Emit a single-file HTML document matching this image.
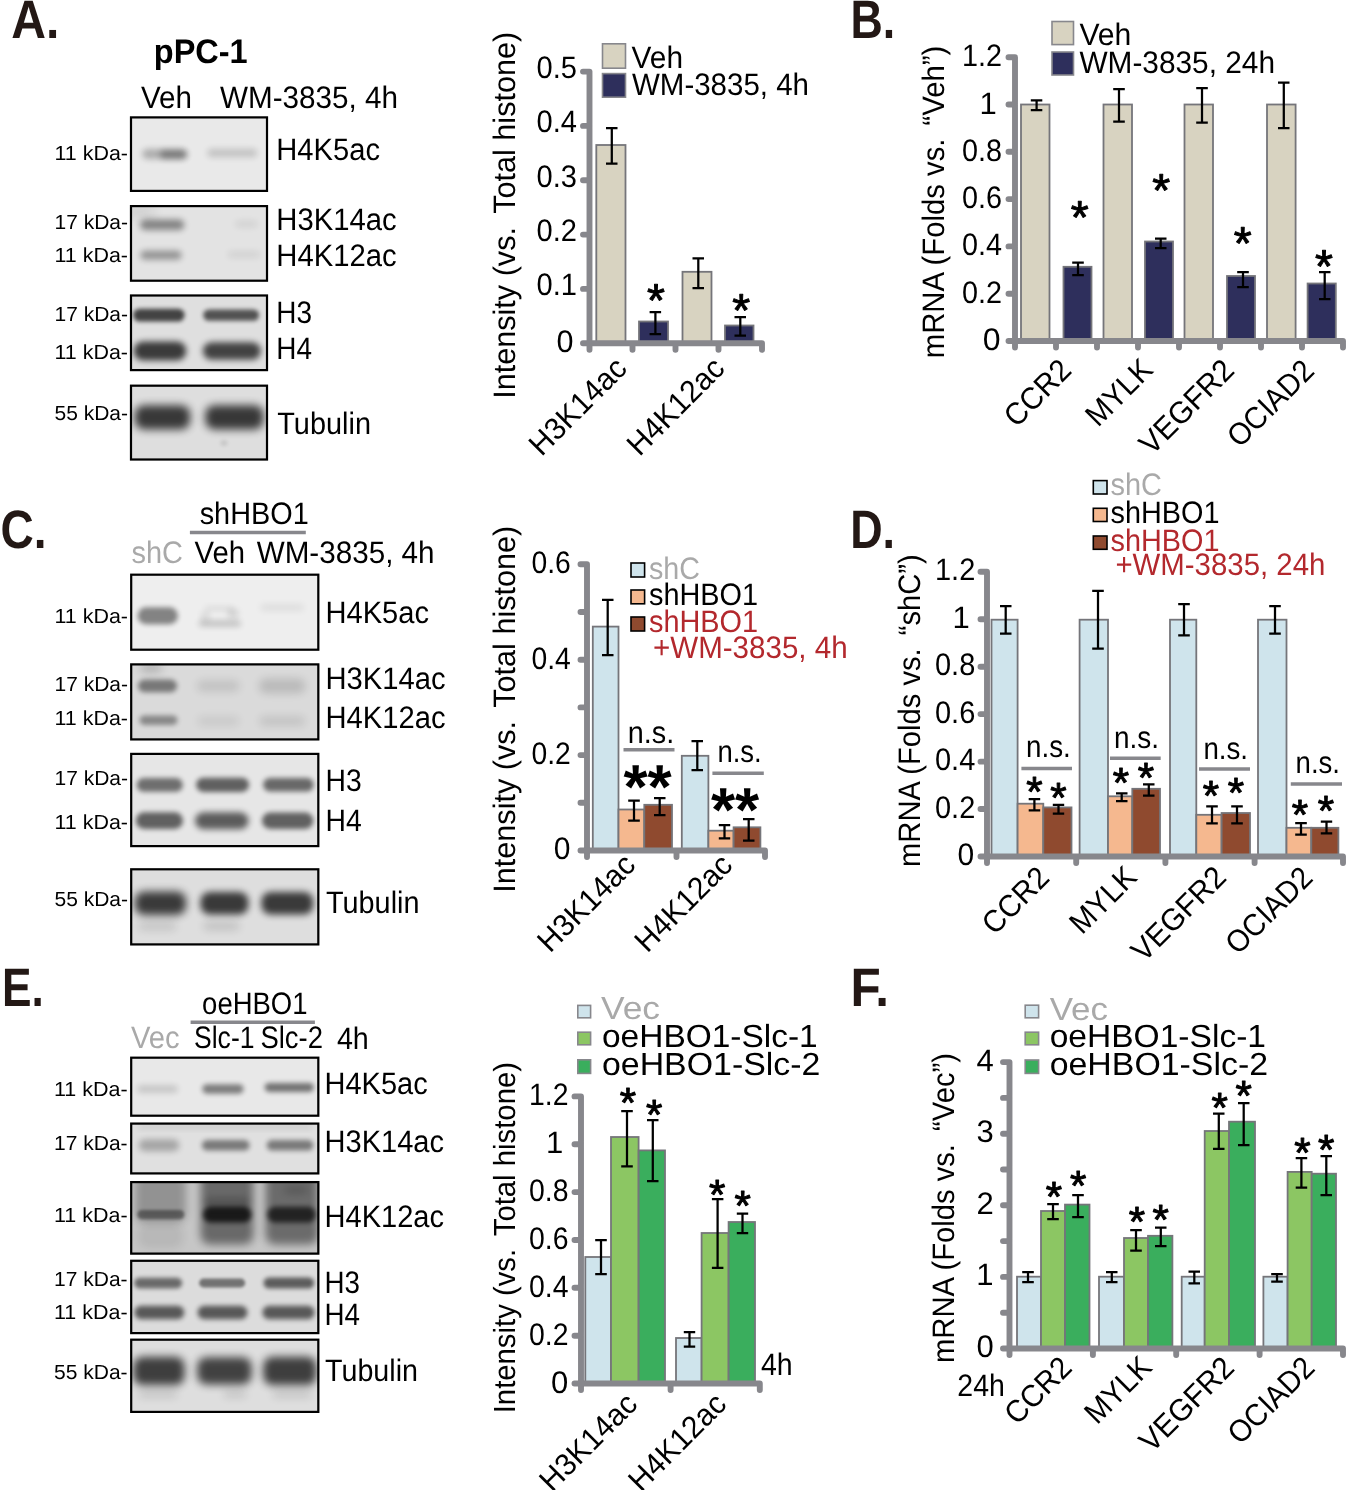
<!DOCTYPE html><html><head><meta charset="utf-8"><title>Figure</title><style>html,body{margin:0;padding:0;background:#fff;}text{opacity:.999}body{width:1346px;height:1490px;overflow:hidden;font-family:"Liberation Sans",sans-serif;}svg{display:block;}</style></head><body><svg width="1346" height="1490" viewBox="0 0 1346 1490" font-family="'Liberation Sans', sans-serif" text-rendering="geometricPrecision"><defs><clipPath id="c1"><rect x="129.9" y="116.3" width="138.2" height="75.7"/></clipPath><clipPath id="c2"><rect x="129.9" y="205.0" width="138.2" height="76.8"/></clipPath><clipPath id="c3"><rect x="129.9" y="294.4" width="138.2" height="76.8"/></clipPath><clipPath id="c4"><rect x="129.9" y="384.6" width="138.2" height="76.0"/></clipPath><clipPath id="c5"><rect x="130.1" y="573.6" width="189.3" height="77.2"/></clipPath><clipPath id="c6"><rect x="130.1" y="663.3" width="189.3" height="77.2"/></clipPath><clipPath id="c7"><rect x="130.1" y="752.8" width="189.3" height="94.4"/></clipPath><clipPath id="c8"><rect x="130.1" y="868.2" width="189.3" height="77.3"/></clipPath><clipPath id="c9"><rect x="130.1" y="1056.6" width="189.3" height="60.2"/></clipPath><clipPath id="c10"><rect x="130.1" y="1122.5" width="189.3" height="52.0"/></clipPath><clipPath id="c11"><rect x="130.1" y="1181.0" width="189.3" height="73.7"/></clipPath><clipPath id="c12"><rect x="130.1" y="1259.7" width="189.3" height="74.5"/></clipPath><clipPath id="c13"><rect x="130.1" y="1338.6" width="189.3" height="74.4"/></clipPath><filter id="b16" x="-60%" y="-300%" width="220%" height="700%"><feGaussianBlur stdDeviation="1.6"/></filter><filter id="b19" x="-60%" y="-300%" width="220%" height="700%"><feGaussianBlur stdDeviation="1.9"/></filter><filter id="b20" x="-60%" y="-300%" width="220%" height="700%"><feGaussianBlur stdDeviation="2.0"/></filter><filter id="b22" x="-60%" y="-300%" width="220%" height="700%"><feGaussianBlur stdDeviation="2.2"/></filter><filter id="b24" x="-60%" y="-300%" width="220%" height="700%"><feGaussianBlur stdDeviation="2.4"/></filter><filter id="b25" x="-60%" y="-300%" width="220%" height="700%"><feGaussianBlur stdDeviation="2.5"/></filter><filter id="b26" x="-60%" y="-300%" width="220%" height="700%"><feGaussianBlur stdDeviation="2.6"/></filter><filter id="b28" x="-60%" y="-300%" width="220%" height="700%"><feGaussianBlur stdDeviation="2.8"/></filter><filter id="b29" x="-60%" y="-300%" width="220%" height="700%"><feGaussianBlur stdDeviation="2.9"/></filter><filter id="b30" x="-60%" y="-300%" width="220%" height="700%"><feGaussianBlur stdDeviation="3.0"/></filter><filter id="b31" x="-60%" y="-300%" width="220%" height="700%"><feGaussianBlur stdDeviation="3.1"/></filter><filter id="b32" x="-60%" y="-300%" width="220%" height="700%"><feGaussianBlur stdDeviation="3.2"/></filter><filter id="b33" x="-60%" y="-300%" width="220%" height="700%"><feGaussianBlur stdDeviation="3.3"/></filter><filter id="b34" x="-60%" y="-300%" width="220%" height="700%"><feGaussianBlur stdDeviation="3.4"/></filter><filter id="b35" x="-60%" y="-300%" width="220%" height="700%"><feGaussianBlur stdDeviation="3.5"/></filter><filter id="b36" x="-60%" y="-300%" width="220%" height="700%"><feGaussianBlur stdDeviation="3.6"/></filter><filter id="b39" x="-60%" y="-300%" width="220%" height="700%"><feGaussianBlur stdDeviation="3.9"/></filter><filter id="b40" x="-60%" y="-300%" width="220%" height="700%"><feGaussianBlur stdDeviation="4.0"/></filter><filter id="b45" x="-60%" y="-300%" width="220%" height="700%"><feGaussianBlur stdDeviation="4.5"/></filter><filter id="b50" x="-60%" y="-300%" width="220%" height="700%"><feGaussianBlur stdDeviation="5.0"/></filter><filter id="b60" x="-60%" y="-300%" width="220%" height="700%"><feGaussianBlur stdDeviation="6.0"/></filter></defs><rect width="1346" height="1490" fill="#fff"/><text x="11.2" y="38.0" font-size="54" font-weight="bold" fill="#231815" textLength="48.1" lengthAdjust="spacingAndGlyphs">A.</text>
<text x="153.8" y="63.3" font-size="34" font-weight="bold" textLength="93.9" lengthAdjust="spacingAndGlyphs">pPC-1</text>
<text x="141.0" y="107.5" font-size="31" textLength="51.0" lengthAdjust="spacingAndGlyphs">Veh</text>
<text x="220.0" y="107.5" font-size="31" textLength="178.0" lengthAdjust="spacingAndGlyphs">WM-3835, 4h</text>
<rect x="129.9" y="116.3" width="138.2" height="75.7" fill="#e9e9e9"/>
<g clip-path="url(#c1)">
<rect x="142.2" y="148.9" width="44.6" height="10.1" rx="5.1" fill="#000" opacity="0.26" filter="url(#b30)"/>
<rect x="160.2" y="150.4" width="26.6" height="8.1" rx="4.1" fill="#000" opacity="0.32" filter="url(#b30)"/>
<rect x="207.2" y="148.7" width="50.2" height="8.6" rx="4.3" fill="#000" opacity="0.16" filter="url(#b32)"/>
</g>
<rect x="131.0" y="117.4" width="136.0" height="73.5" fill="none" stroke="#000" stroke-width="2.2"/>
<rect x="129.9" y="205.0" width="138.2" height="76.8" fill="#e3e3e3"/>
<g clip-path="url(#c2)">
<rect x="125.4" y="207.9" width="29.2" height="8.2" rx="4.1" fill="#000" opacity="0.12" filter="url(#b60)"/>
<rect x="140.1" y="219.4" width="44.2" height="10.6" rx="5.3" fill="#000" opacity="0.42" filter="url(#b32)"/>
<rect x="140.4" y="250.8" width="41.2" height="8.6" rx="4.3" fill="#000" opacity="0.36" filter="url(#b32)"/>
<rect x="235.2" y="220.4" width="22.6" height="7.1" rx="3.6" fill="#000" opacity="0.07" filter="url(#b30)"/>
<rect x="227.7" y="250.9" width="32.6" height="7.1" rx="3.6" fill="#000" opacity="0.07" filter="url(#b30)"/>
</g>
<rect x="131.0" y="206.1" width="136.0" height="74.6" fill="none" stroke="#000" stroke-width="2.2"/>
<rect x="129.9" y="294.4" width="138.2" height="76.8" fill="#dfdfdf"/>
<g clip-path="url(#c3)">
<rect x="133.1" y="308.7" width="51.5" height="12.8" rx="6.4" fill="#000" opacity="0.70" filter="url(#b22)"/>
<rect x="203.2" y="309.4" width="55.9" height="11.4" rx="5.7" fill="#000" opacity="0.63" filter="url(#b20)"/>
<rect x="133.7" y="341.6" width="52.5" height="18.9" rx="9.0" fill="#000" opacity="0.74" filter="url(#b33)"/>
<rect x="202.9" y="342.3" width="58.0" height="17.5" rx="8.7" fill="#000" opacity="0.70" filter="url(#b31)"/>
</g>
<rect x="131.0" y="295.5" width="136.0" height="74.6" fill="none" stroke="#000" stroke-width="2.2"/>
<rect x="129.9" y="384.6" width="138.2" height="76.0" fill="#dedede"/>
<g clip-path="url(#c4)">
<rect x="134.8" y="405.2" width="55.3" height="24.3" rx="9.0" fill="#000" opacity="0.75" filter="url(#b40)"/>
<rect x="205.3" y="405.2" width="58.3" height="24.3" rx="9.0" fill="#000" opacity="0.75" filter="url(#b40)"/>
<rect x="220.8" y="441.3" width="6.4" height="3.4" rx="1.7" fill="#000" opacity="0.19" filter="url(#b20)"/>
</g>
<rect x="131.0" y="385.7" width="136.0" height="73.8" fill="none" stroke="#000" stroke-width="2.2"/>
<text x="54.5" y="159.6" font-size="20.5" textLength="73.5" lengthAdjust="spacingAndGlyphs">11 kDa-</text>
<text x="54.5" y="229.0" font-size="20.5" textLength="73.5" lengthAdjust="spacingAndGlyphs">17 kDa-</text>
<text x="54.5" y="262.4" font-size="20.5" textLength="73.5" lengthAdjust="spacingAndGlyphs">11 kDa-</text>
<text x="54.5" y="320.6" font-size="20.5" textLength="73.5" lengthAdjust="spacingAndGlyphs">17 kDa-</text>
<text x="54.5" y="359.0" font-size="20.5" textLength="73.5" lengthAdjust="spacingAndGlyphs">11 kDa-</text>
<text x="54.5" y="419.6" font-size="20.5" textLength="73.5" lengthAdjust="spacingAndGlyphs">55 kDa-</text>
<text x="276.3" y="160.2" font-size="31" textLength="103.7" lengthAdjust="spacingAndGlyphs">H4K5ac</text>
<text x="276.3" y="229.6" font-size="31" textLength="120.3" lengthAdjust="spacingAndGlyphs">H3K14ac</text>
<text x="276.3" y="265.8" font-size="31" textLength="120.3" lengthAdjust="spacingAndGlyphs">H4K12ac</text>
<text x="276.3" y="322.9" font-size="31" textLength="35.7" lengthAdjust="spacingAndGlyphs">H3</text>
<text x="276.3" y="359.2" font-size="31" textLength="35.7" lengthAdjust="spacingAndGlyphs">H4</text>
<text x="277.3" y="433.6" font-size="31" textLength="93.7" lengthAdjust="spacingAndGlyphs">Tubulin</text>
<rect x="596.3" y="145.0" width="29.2" height="198.3" fill="#d8d3c1" stroke="#75757a" stroke-width="1.8"/>
<rect x="639.0" y="321.5" width="29.0" height="21.8" fill="#2e2f5c" stroke="#75757a" stroke-width="1.8"/>
<rect x="682.5" y="271.8" width="29.0" height="71.5" fill="#d8d3c1" stroke="#75757a" stroke-width="1.8"/>
<rect x="725.0" y="325.5" width="28.5" height="17.8" fill="#2e2f5c" stroke="#75757a" stroke-width="1.8"/>
<path d="M606.0 128.0H617.5M606.0 163.6H617.5M611.8 128.0V163.6" stroke="#000" stroke-width="2.25" fill="none"/>
<path d="M649.6 312.0H661.1M649.6 334.0H661.1M655.4 312.0V334.0" stroke="#000" stroke-width="2.25" fill="none"/>
<path d="M692.5 258.4H704.0M692.5 288.0H704.0M698.3 258.4V288.0" stroke="#000" stroke-width="2.25" fill="none"/>
<path d="M734.5 317.0H746.0M734.5 335.6H746.0M740.3 317.0V335.6" stroke="#000" stroke-width="2.25" fill="none"/>
<text x="656.0" y="315.6" font-size="46" text-anchor="middle" stroke="#000" stroke-width="1.0" stroke-linejoin="round">*</text>
<text x="741.3" y="325.9" font-size="46" text-anchor="middle" stroke="#000" stroke-width="1.0" stroke-linejoin="round">*</text>
<rect x="602.5" y="43.8" width="23.0" height="24.4" fill="#d8d3c1" stroke="#87878c" stroke-width="1.6"/>
<rect x="602.5" y="73.6" width="23.0" height="23.6" fill="#2e2f5c" stroke="#87878c" stroke-width="1.6"/>
<text x="631.6" y="67.6" font-size="31" textLength="51.4" lengthAdjust="spacingAndGlyphs">Veh</text>
<text x="632.0" y="95.4" font-size="31" textLength="177.0" lengthAdjust="spacingAndGlyphs">WM-3835, 4h</text>
<text x="536.6" y="78.1" font-size="31" textLength="40.4" lengthAdjust="spacingAndGlyphs">0.5</text>
<text x="536.6" y="132.4" font-size="31" textLength="40.4" lengthAdjust="spacingAndGlyphs">0.4</text>
<text x="536.6" y="186.8" font-size="31" textLength="40.4" lengthAdjust="spacingAndGlyphs">0.3</text>
<text x="536.6" y="241.1" font-size="31" textLength="40.4" lengthAdjust="spacingAndGlyphs">0.2</text>
<text x="536.6" y="295.4" font-size="31" textLength="40.4" lengthAdjust="spacingAndGlyphs">0.1</text>
<text x="556.5" y="352.3" font-size="31" textLength="17.0" lengthAdjust="spacingAndGlyphs">0</text>
<g transform="translate(515.3 398.8) rotate(-90) scale(0.9872 1)"><text x="-0.00" y="0" font-size="31" xml:space="preserve">Intensity (vs. <tspan dx="5.3">Total histone)</tspan></text></g>
<text x="628.5" y="370.2" font-size="31" text-anchor="end" textLength="123.0" lengthAdjust="spacingAndGlyphs" transform="rotate(-45 628.5 370.2)">H3K14ac</text>
<text x="726.4" y="370.2" font-size="31" text-anchor="end" textLength="123.0" lengthAdjust="spacingAndGlyphs" transform="rotate(-45 726.4 370.2)">H4K12ac</text>
<text x="850.4" y="38.0" font-size="54" font-weight="bold" fill="#231815" textLength="44.7" lengthAdjust="spacingAndGlyphs">B.</text>
<rect x="1021.0" y="104.5" width="28.5" height="236.5" fill="#d8d3c1" stroke="#75757a" stroke-width="1.8"/>
<rect x="1063.5" y="266.8" width="28.0" height="74.2" fill="#2e2f5c" stroke="#75757a" stroke-width="1.8"/>
<rect x="1103.5" y="104.5" width="28.5" height="236.5" fill="#d8d3c1" stroke="#75757a" stroke-width="1.8"/>
<rect x="1145.0" y="241.5" width="28.0" height="99.5" fill="#2e2f5c" stroke="#75757a" stroke-width="1.8"/>
<rect x="1184.5" y="104.5" width="28.5" height="236.5" fill="#d8d3c1" stroke="#75757a" stroke-width="1.8"/>
<rect x="1227.0" y="276.0" width="28.0" height="65.0" fill="#2e2f5c" stroke="#75757a" stroke-width="1.8"/>
<rect x="1267.0" y="104.5" width="28.6" height="236.5" fill="#d8d3c1" stroke="#75757a" stroke-width="1.8"/>
<rect x="1307.6" y="283.5" width="28.2" height="57.5" fill="#2e2f5c" stroke="#75757a" stroke-width="1.8"/>
<path d="M1030.8 100.3H1042.3M1030.8 110.0H1042.3M1036.6 100.3V110.0" stroke="#000" stroke-width="2.25" fill="none"/>
<path d="M1072.2 262.7H1083.8M1072.2 275.0H1083.8M1078.0 262.7V275.0" stroke="#000" stroke-width="2.25" fill="none"/>
<path d="M1113.2 89.0H1124.8M1113.2 121.5H1124.8M1119.0 89.0V121.5" stroke="#000" stroke-width="2.25" fill="none"/>
<path d="M1155.0 238.5H1166.5M1155.0 248.0H1166.5M1160.7 238.5V248.0" stroke="#000" stroke-width="2.25" fill="none"/>
<path d="M1196.2 88.0H1207.8M1196.2 122.6H1207.8M1202.0 88.0V122.6" stroke="#000" stroke-width="2.25" fill="none"/>
<path d="M1237.2 272.0H1248.8M1237.2 287.0H1248.8M1243.0 272.0V287.0" stroke="#000" stroke-width="2.25" fill="none"/>
<path d="M1278.0 82.5H1289.5M1278.0 128.0H1289.5M1283.8 82.5V128.0" stroke="#000" stroke-width="2.25" fill="none"/>
<path d="M1319.0 272.0H1330.5M1319.0 299.0H1330.5M1324.7 272.0V299.0" stroke="#000" stroke-width="2.25" fill="none"/>
<text x="1079.7" y="232.9" font-size="46" text-anchor="middle" stroke="#000" stroke-width="1.0" stroke-linejoin="round">*</text>
<text x="1161.1" y="205.5" font-size="46" text-anchor="middle" stroke="#000" stroke-width="1.0" stroke-linejoin="round">*</text>
<text x="1242.6" y="258.7" font-size="46" text-anchor="middle" stroke="#000" stroke-width="1.0" stroke-linejoin="round">*</text>
<text x="1324.0" y="281.6" font-size="46" text-anchor="middle" stroke="#000" stroke-width="1.0" stroke-linejoin="round">*</text>
<rect x="1052.0" y="21.5" width="21.5" height="23.1" fill="#d8d3c1" stroke="#87878c" stroke-width="1.6"/>
<rect x="1052.0" y="52.0" width="21.5" height="23.0" fill="#2e2f5c" stroke="#87878c" stroke-width="1.6"/>
<text x="1079.4" y="45.3" font-size="31" textLength="52.0" lengthAdjust="spacingAndGlyphs">Veh</text>
<text x="1079.4" y="72.6" font-size="31" textLength="195.6" lengthAdjust="spacingAndGlyphs">WM-3835, 24h</text>
<text x="962.0" y="66.2" font-size="31" textLength="40.0" lengthAdjust="spacingAndGlyphs">1.2</text>
<text x="962.0" y="160.8" font-size="31" textLength="40.0" lengthAdjust="spacingAndGlyphs">0.8</text>
<text x="962.0" y="208.1" font-size="31" textLength="40.0" lengthAdjust="spacingAndGlyphs">0.6</text>
<text x="962.0" y="255.4" font-size="31" textLength="40.0" lengthAdjust="spacingAndGlyphs">0.4</text>
<text x="962.0" y="302.7" font-size="31" textLength="40.0" lengthAdjust="spacingAndGlyphs">0.2</text>
<text x="979.6" y="113.5" font-size="31">1</text>
<text x="982.7" y="350.3" font-size="31" textLength="17.8" lengthAdjust="spacingAndGlyphs">0</text>
<g transform="translate(944.3 358.2) rotate(-90) scale(0.9446 1)"><text x="-0.00" y="0" font-size="31" xml:space="preserve">mRNA (Folds vs. <tspan dx="5.3">“Veh”)</tspan></text></g>
<text x="1073.0" y="372.0" font-size="31" text-anchor="end" textLength="80.0" lengthAdjust="spacingAndGlyphs" transform="rotate(-45 1073.0 372.0)">CCR2</text>
<text x="1154.5" y="371.5" font-size="31" text-anchor="end" textLength="80.0" lengthAdjust="spacingAndGlyphs" transform="rotate(-45 1154.5 371.5)">MYLK</text>
<text x="1236.0" y="372.0" font-size="31" text-anchor="end" textLength="119.0" lengthAdjust="spacingAndGlyphs" transform="rotate(-45 1236.0 372.0)">VEGFR2</text>
<text x="1316.0" y="372.5" font-size="31" text-anchor="end" textLength="108.0" lengthAdjust="spacingAndGlyphs" transform="rotate(-45 1316.0 372.5)">OCIAD2</text>
<text x="0.5" y="547.5" font-size="54" font-weight="bold" fill="#231815" textLength="46.1" lengthAdjust="spacingAndGlyphs">C.</text>
<text x="199.7" y="523.6" font-size="31" textLength="109.0" lengthAdjust="spacingAndGlyphs">shHBO1</text>
<line x1="189.9" y1="532.4" x2="305.8" y2="532.4" stroke="#87878c" stroke-width="3.5"/>
<text x="131.5" y="563.2" font-size="31" fill="#a9a9a9" textLength="51.5" lengthAdjust="spacingAndGlyphs">shC</text>
<text x="194.6" y="563.2" font-size="31" textLength="50.4" lengthAdjust="spacingAndGlyphs">Veh</text>
<text x="256.7" y="563.2" font-size="31" textLength="177.9" lengthAdjust="spacingAndGlyphs">WM-3835, 4h</text>
<rect x="130.1" y="573.6" width="189.3" height="77.2" fill="#eeeeee"/>
<g clip-path="url(#c5)">
<rect x="137.6" y="607.2" width="40.3" height="17.0" rx="8.5" fill="#000" opacity="0.45" filter="url(#b26)"/>
<rect x="198.9" y="620.9" width="41.9" height="5.2" rx="2.6" fill="#000" opacity="0.23" filter="url(#b34)"/>
<rect x="201.7" y="612.6" width="7.5" height="7.7" rx="3.8" fill="#000" opacity="0.14" filter="url(#b36)"/>
<rect x="228.2" y="609.6" width="9.5" height="7.7" rx="3.9" fill="#000" opacity="0.17" filter="url(#b36)"/>
<rect x="204.9" y="607.7" width="28.2" height="1.6" rx="0.8" fill="#000" opacity="0.25" filter="url(#b32)"/>
<rect x="260.3" y="604.5" width="43.7" height="6.0" rx="3.0" fill="#000" opacity="0.08" filter="url(#b35)"/>
</g>
<rect x="131.2" y="574.7" width="187.1" height="75.0" fill="none" stroke="#000" stroke-width="2.2"/>
<rect x="130.1" y="663.3" width="189.3" height="77.2" fill="#dadada"/>
<g clip-path="url(#c6)">
<rect x="140.5" y="664.8" width="21.0" height="6.5" rx="3.2" fill="#000" opacity="0.26" filter="url(#b50)"/>
<rect x="138.0" y="679.6" width="39.0" height="12.6" rx="6.3" fill="#000" opacity="0.45" filter="url(#b28)"/>
<rect x="139.5" y="715.4" width="38.0" height="9.6" rx="4.8" fill="#000" opacity="0.38" filter="url(#b28)"/>
<rect x="196.9" y="680.6" width="42.8" height="10.8" rx="5.4" fill="#000" opacity="0.11" filter="url(#b40)"/>
<rect x="258.8" y="678.6" width="46.8" height="14.8" rx="7.4" fill="#000" opacity="0.14" filter="url(#b40)"/>
<rect x="197.4" y="716.2" width="41.9" height="9.7" rx="4.8" fill="#000" opacity="0.07" filter="url(#b45)"/>
<rect x="259.2" y="716.2" width="45.9" height="9.7" rx="4.8" fill="#000" opacity="0.10" filter="url(#b45)"/>
</g>
<rect x="131.2" y="664.4" width="187.1" height="75.0" fill="none" stroke="#000" stroke-width="2.2"/>
<rect x="130.1" y="752.8" width="189.3" height="94.4" fill="#e6e6e6"/>
<g clip-path="url(#c7)">
<rect x="136.7" y="777.9" width="46.1" height="13.9" rx="6.9" fill="#000" opacity="0.52" filter="url(#b24)"/>
<rect x="196.1" y="777.7" width="53.0" height="14.2" rx="7.1" fill="#000" opacity="0.58" filter="url(#b25)"/>
<rect x="263.1" y="778.0" width="50.7" height="13.5" rx="6.8" fill="#000" opacity="0.55" filter="url(#b24)"/>
<rect x="135.8" y="812.3" width="47.2" height="16.7" rx="8.4" fill="#000" opacity="0.58" filter="url(#b29)"/>
<rect x="195.0" y="812.2" width="53.6" height="17.1" rx="8.6" fill="#000" opacity="0.60" filter="url(#b30)"/>
<rect x="262.0" y="812.5" width="51.3" height="16.4" rx="8.2" fill="#000" opacity="0.58" filter="url(#b29)"/>
</g>
<rect x="131.2" y="753.9" width="187.1" height="92.2" fill="none" stroke="#000" stroke-width="2.2"/>
<rect x="130.1" y="868.2" width="189.3" height="77.3" fill="#dedede"/>
<g clip-path="url(#c8)">
<rect x="134.8" y="891.6" width="51.3" height="23.3" rx="9.0" fill="#000" opacity="0.74" filter="url(#b40)"/>
<rect x="200.5" y="892.1" width="47.9" height="22.4" rx="9.0" fill="#000" opacity="0.74" filter="url(#b39)"/>
<rect x="261.4" y="892.1" width="51.8" height="22.4" rx="9.0" fill="#000" opacity="0.74" filter="url(#b39)"/>
<rect x="138.0" y="921.6" width="38.8" height="8.8" rx="4.4" fill="#000" opacity="0.11" filter="url(#b40)"/>
<rect x="203.0" y="921.6" width="36.8" height="8.8" rx="4.4" fill="#000" opacity="0.12" filter="url(#b40)"/>
</g>
<rect x="131.2" y="869.3" width="187.1" height="75.1" fill="none" stroke="#000" stroke-width="2.2"/>
<text x="54.5" y="622.6" font-size="20.5" textLength="73.5" lengthAdjust="spacingAndGlyphs">11 kDa-</text>
<text x="54.5" y="690.7" font-size="20.5" textLength="73.5" lengthAdjust="spacingAndGlyphs">17 kDa-</text>
<text x="54.5" y="725.0" font-size="20.5" textLength="73.5" lengthAdjust="spacingAndGlyphs">11 kDa-</text>
<text x="54.5" y="785.4" font-size="20.5" textLength="73.5" lengthAdjust="spacingAndGlyphs">17 kDa-</text>
<text x="54.5" y="829.0" font-size="20.5" textLength="73.5" lengthAdjust="spacingAndGlyphs">11 kDa-</text>
<text x="54.5" y="906.0" font-size="20.5" textLength="73.5" lengthAdjust="spacingAndGlyphs">55 kDa-</text>
<text x="325.5" y="623.1" font-size="31" textLength="103.5" lengthAdjust="spacingAndGlyphs">H4K5ac</text>
<text x="325.5" y="688.5" font-size="31" textLength="120.1" lengthAdjust="spacingAndGlyphs">H3K14ac</text>
<text x="325.5" y="728.3" font-size="31" textLength="120.1" lengthAdjust="spacingAndGlyphs">H4K12ac</text>
<text x="325.5" y="790.9" font-size="31" textLength="36.2" lengthAdjust="spacingAndGlyphs">H3</text>
<text x="325.5" y="831.3" font-size="31" textLength="36.2" lengthAdjust="spacingAndGlyphs">H4</text>
<text x="326.0" y="913.0" font-size="31" textLength="93.5" lengthAdjust="spacingAndGlyphs">Tubulin</text>
<rect x="592.8" y="626.6" width="25.7" height="223.9" fill="#cfe4ec" stroke="#75757a" stroke-width="1.8"/>
<rect x="618.5" y="809.5" width="25.8" height="41.0" fill="#f5b88f" stroke="#75757a" stroke-width="1.8"/>
<rect x="644.3" y="804.8" width="27.7" height="45.7" fill="#8f4a2f" stroke="#75757a" stroke-width="1.8"/>
<rect x="681.8" y="755.8" width="26.6" height="94.7" fill="#cfe4ec" stroke="#75757a" stroke-width="1.8"/>
<rect x="708.4" y="830.7" width="25.2" height="19.8" fill="#f5b88f" stroke="#75757a" stroke-width="1.8"/>
<rect x="733.6" y="827.3" width="26.8" height="23.2" fill="#8f4a2f" stroke="#75757a" stroke-width="1.8"/>
<path d="M602.0 599.8H613.5M602.0 655.0H613.5M607.7 599.8V655.0" stroke="#000" stroke-width="2.25" fill="none"/>
<path d="M628.2 800.5H639.8M628.2 820.6H639.8M634.0 800.5V820.6" stroke="#000" stroke-width="2.25" fill="none"/>
<path d="M654.0 798.0H665.5M654.0 815.0H665.5M659.7 798.0V815.0" stroke="#000" stroke-width="2.25" fill="none"/>
<path d="M691.5 741.0H703.0M691.5 770.0H703.0M697.3 741.0V770.0" stroke="#000" stroke-width="2.25" fill="none"/>
<path d="M718.8 825.0H730.2M718.8 838.4H730.2M724.5 825.0V838.4" stroke="#000" stroke-width="2.25" fill="none"/>
<path d="M743.0 819.0H754.5M743.0 840.7H754.5M748.7 819.0V840.7" stroke="#000" stroke-width="2.25" fill="none"/>
<text x="627.8" y="742.8" font-size="31" textLength="46.4" lengthAdjust="spacingAndGlyphs">n.s.</text>
<line x1="623.5" y1="749.8" x2="674.5" y2="749.8" stroke="#87878c" stroke-width="3.5"/>
<text x="717.4" y="762.0" font-size="31" textLength="44.3" lengthAdjust="spacingAndGlyphs">n.s.</text>
<line x1="712.4" y1="773.2" x2="763.8" y2="773.2" stroke="#87878c" stroke-width="3.5"/>
<text x="635.5" y="807.8" font-size="62" font-weight="bold" text-anchor="middle">*</text>
<text x="659.5" y="807.8" font-size="62" font-weight="bold" text-anchor="middle">*</text>
<text x="723.0" y="830.5" font-size="62" font-weight="bold" text-anchor="middle">*</text>
<text x="747.0" y="830.5" font-size="62" font-weight="bold" text-anchor="middle">*</text>
<rect x="631.0" y="563.0" width="13.6" height="14.0" fill="#cfe4ec" stroke="#000" stroke-width="1.6"/>
<rect x="631.0" y="590.0" width="13.6" height="13.8" fill="#f5b88f" stroke="#000" stroke-width="1.6"/>
<rect x="631.0" y="617.0" width="13.6" height="14.0" fill="#8f4a2f" stroke="#000" stroke-width="1.6"/>
<text x="649.0" y="578.5" font-size="31" fill="#a9a9a9" textLength="51.0" lengthAdjust="spacingAndGlyphs">shC</text>
<text x="649.0" y="605.2" font-size="31" textLength="109.0" lengthAdjust="spacingAndGlyphs">shHBO1</text>
<text x="649.0" y="632.2" font-size="31" fill="#b3282d" textLength="109.0" lengthAdjust="spacingAndGlyphs">shHBO1</text>
<text x="653.0" y="657.5" font-size="31" fill="#b3282d" textLength="194.6" lengthAdjust="spacingAndGlyphs">+WM-3835, 4h</text>
<text x="531.5" y="573.3" font-size="31" textLength="39.3" lengthAdjust="spacingAndGlyphs">0.6</text>
<text x="531.5" y="668.7" font-size="31" textLength="39.3" lengthAdjust="spacingAndGlyphs">0.4</text>
<text x="531.5" y="764.1" font-size="31" textLength="39.3" lengthAdjust="spacingAndGlyphs">0.2</text>
<text x="553.8" y="858.8" font-size="31" textLength="16.7" lengthAdjust="spacingAndGlyphs">0</text>
<g transform="translate(515.3 892.7) rotate(-90) scale(0.9872 1)"><text x="-0.00" y="0" font-size="31" xml:space="preserve">Intensity (vs. <tspan dx="5.3">Total histone)</tspan></text></g>
<text x="637.0" y="866.8" font-size="31" text-anchor="end" textLength="123.0" lengthAdjust="spacingAndGlyphs" transform="rotate(-45 637.0 866.8)">H3K14ac</text>
<text x="734.2" y="866.8" font-size="31" text-anchor="end" textLength="123.0" lengthAdjust="spacingAndGlyphs" transform="rotate(-45 734.2 866.8)">H4K12ac</text>
<text x="850.2" y="547.8" font-size="54" font-weight="bold" fill="#231815" textLength="44.9" lengthAdjust="spacingAndGlyphs">D.</text>
<rect x="991.5" y="619.7" width="26.1" height="236.8" fill="#cfe4ec" stroke="#75757a" stroke-width="1.8"/>
<rect x="1017.6" y="803.7" width="25.7" height="52.8" fill="#f5b88f" stroke="#75757a" stroke-width="1.8"/>
<rect x="1043.3" y="807.4" width="28.2" height="49.1" fill="#8f4a2f" stroke="#75757a" stroke-width="1.8"/>
<rect x="1079.6" y="619.7" width="28.4" height="236.8" fill="#cfe4ec" stroke="#75757a" stroke-width="1.8"/>
<rect x="1108.0" y="796.3" width="24.3" height="60.2" fill="#f5b88f" stroke="#75757a" stroke-width="1.8"/>
<rect x="1132.3" y="788.8" width="27.7" height="67.7" fill="#8f4a2f" stroke="#75757a" stroke-width="1.8"/>
<rect x="1170.0" y="619.7" width="26.3" height="236.8" fill="#cfe4ec" stroke="#75757a" stroke-width="1.8"/>
<rect x="1196.3" y="814.8" width="25.3" height="41.7" fill="#f5b88f" stroke="#75757a" stroke-width="1.8"/>
<rect x="1221.6" y="813.0" width="28.4" height="43.5" fill="#8f4a2f" stroke="#75757a" stroke-width="1.8"/>
<rect x="1258.0" y="619.7" width="28.5" height="236.8" fill="#cfe4ec" stroke="#75757a" stroke-width="1.8"/>
<rect x="1286.5" y="827.8" width="24.8" height="28.7" fill="#f5b88f" stroke="#75757a" stroke-width="1.8"/>
<rect x="1311.3" y="827.8" width="27.1" height="28.7" fill="#8f4a2f" stroke="#75757a" stroke-width="1.8"/>
<path d="M1000.0 606.0H1011.5M1000.0 633.5H1011.5M1005.7 606.0V633.5" stroke="#000" stroke-width="2.25" fill="none"/>
<path d="M1028.7 799.0H1040.2M1028.7 810.4H1040.2M1034.4 799.0V810.4" stroke="#000" stroke-width="2.25" fill="none"/>
<path d="M1052.8 804.8H1064.2M1052.8 813.7H1064.2M1058.5 804.8V813.7" stroke="#000" stroke-width="2.25" fill="none"/>
<path d="M1092.2 590.8H1103.8M1092.2 648.7H1103.8M1098.0 590.8V648.7" stroke="#000" stroke-width="2.25" fill="none"/>
<path d="M1116.0 793.3H1127.5M1116.0 801.0H1127.5M1121.7 793.3V801.0" stroke="#000" stroke-width="2.25" fill="none"/>
<path d="M1143.0 784.4H1154.5M1143.0 795.5H1154.5M1148.8 784.4V795.5" stroke="#000" stroke-width="2.25" fill="none"/>
<path d="M1178.2 604.0H1189.8M1178.2 635.3H1189.8M1184.0 604.0V635.3" stroke="#000" stroke-width="2.25" fill="none"/>
<path d="M1206.2 806.3H1217.8M1206.2 823.4H1217.8M1212.0 806.3V823.4" stroke="#000" stroke-width="2.25" fill="none"/>
<path d="M1231.2 806.3H1242.8M1231.2 823.4H1242.8M1237.0 806.3V823.4" stroke="#000" stroke-width="2.25" fill="none"/>
<path d="M1269.2 606.0H1280.8M1269.2 633.5H1280.8M1275.0 606.0V633.5" stroke="#000" stroke-width="2.25" fill="none"/>
<path d="M1295.2 823.0H1306.8M1295.2 834.5H1306.8M1301.0 823.0V834.5" stroke="#000" stroke-width="2.25" fill="none"/>
<path d="M1320.8 821.5H1332.2M1320.8 833.4H1332.2M1326.5 821.5V833.4" stroke="#000" stroke-width="2.25" fill="none"/>
<text x="1026.0" y="757.0" font-size="31" textLength="44.7" lengthAdjust="spacingAndGlyphs">n.s.</text>
<line x1="1021.4" y1="768.4" x2="1072.0" y2="768.4" stroke="#87878c" stroke-width="3.5"/>
<text x="1114.0" y="748.0" font-size="31" textLength="45.0" lengthAdjust="spacingAndGlyphs">n.s.</text>
<line x1="1110.0" y1="758.3" x2="1160.7" y2="758.3" stroke="#87878c" stroke-width="3.5"/>
<text x="1203.4" y="759.0" font-size="31" textLength="44.6" lengthAdjust="spacingAndGlyphs">n.s.</text>
<line x1="1199.0" y1="769.0" x2="1250.0" y2="769.0" stroke="#87878c" stroke-width="3.5"/>
<text x="1295.6" y="772.8" font-size="31" textLength="44.4" lengthAdjust="spacingAndGlyphs">n.s.</text>
<line x1="1290.8" y1="784.0" x2="1342.0" y2="784.0" stroke="#87878c" stroke-width="3.5"/>
<text x="1034.4" y="806.0" font-size="42" text-anchor="middle" stroke="#000" stroke-width="1.0" stroke-linejoin="round">*</text>
<text x="1058.5" y="812.2" font-size="42" text-anchor="middle" stroke="#000" stroke-width="1.0" stroke-linejoin="round">*</text>
<text x="1121.0" y="797.4" font-size="42" text-anchor="middle" stroke="#000" stroke-width="1.0" stroke-linejoin="round">*</text>
<text x="1146.0" y="791.6" font-size="42" text-anchor="middle" stroke="#000" stroke-width="1.0" stroke-linejoin="round">*</text>
<text x="1211.0" y="810.4" font-size="42" text-anchor="middle" stroke="#000" stroke-width="1.0" stroke-linejoin="round">*</text>
<text x="1236.0" y="806.6" font-size="42" text-anchor="middle" stroke="#000" stroke-width="1.0" stroke-linejoin="round">*</text>
<text x="1300.0" y="829.0" font-size="42" text-anchor="middle" stroke="#000" stroke-width="1.0" stroke-linejoin="round">*</text>
<text x="1326.0" y="825.3" font-size="42" text-anchor="middle" stroke="#000" stroke-width="1.0" stroke-linejoin="round">*</text>
<rect x="1093.3" y="480.6" width="13.7" height="13.4" fill="#cfe4ec" stroke="#000" stroke-width="1.6"/>
<rect x="1093.3" y="508.3" width="13.7" height="13.2" fill="#f5b88f" stroke="#000" stroke-width="1.6"/>
<rect x="1093.3" y="536.0" width="13.7" height="13.3" fill="#8f4a2f" stroke="#000" stroke-width="1.6"/>
<text x="1110.6" y="495.0" font-size="31" fill="#a9a9a9" textLength="51.4" lengthAdjust="spacingAndGlyphs">shC</text>
<text x="1110.6" y="522.8" font-size="31" textLength="108.9" lengthAdjust="spacingAndGlyphs">shHBO1</text>
<text x="1110.6" y="550.8" font-size="31" fill="#b3282d" textLength="108.9" lengthAdjust="spacingAndGlyphs">shHBO1</text>
<text x="1115.4" y="575.4" font-size="31" fill="#b3282d" textLength="210.0" lengthAdjust="spacingAndGlyphs">+WM-3835, 24h</text>
<text x="935.0" y="580.3" font-size="31" textLength="40.3" lengthAdjust="spacingAndGlyphs">1.2</text>
<text x="935.0" y="675.2" font-size="31" textLength="40.3" lengthAdjust="spacingAndGlyphs">0.8</text>
<text x="935.0" y="722.6" font-size="31" textLength="40.3" lengthAdjust="spacingAndGlyphs">0.6</text>
<text x="935.0" y="770.1" font-size="31" textLength="40.3" lengthAdjust="spacingAndGlyphs">0.4</text>
<text x="935.0" y="817.5" font-size="31" textLength="40.3" lengthAdjust="spacingAndGlyphs">0.2</text>
<text x="952.4" y="627.8" font-size="31">1</text>
<text x="957.6" y="865.3" font-size="31" textLength="16.7" lengthAdjust="spacingAndGlyphs">0</text>
<g transform="translate(919.5 866.9) rotate(-90) scale(0.9398 1)"><text x="-0.00" y="0" font-size="31" xml:space="preserve">mRNA (Folds vs. <tspan dx="5.3">“shC”)</tspan></text></g>
<text x="1051.0" y="879.5" font-size="31" text-anchor="end" textLength="80.0" lengthAdjust="spacingAndGlyphs" transform="rotate(-45 1051.0 879.5)">CCR2</text>
<text x="1138.6" y="879.0" font-size="31" text-anchor="end" textLength="80.0" lengthAdjust="spacingAndGlyphs" transform="rotate(-45 1138.6 879.0)">MYLK</text>
<text x="1228.0" y="879.0" font-size="31" text-anchor="end" textLength="119.0" lengthAdjust="spacingAndGlyphs" transform="rotate(-45 1228.0 879.0)">VEGFR2</text>
<text x="1314.4" y="879.5" font-size="31" text-anchor="end" textLength="108.0" lengthAdjust="spacingAndGlyphs" transform="rotate(-45 1314.4 879.5)">OCIAD2</text>
<text x="1.9" y="1006.3" font-size="54" font-weight="bold" fill="#231815" textLength="41.8" lengthAdjust="spacingAndGlyphs">E.</text>
<text x="202.1" y="1014.4" font-size="31" textLength="105.4" lengthAdjust="spacingAndGlyphs">oeHBO1</text>
<line x1="190.6" y1="1022.2" x2="314.9" y2="1022.2" stroke="#87878c" stroke-width="3.5"/>
<text x="131.0" y="1047.8" font-size="31" fill="#a9a9a9" textLength="48.7" lengthAdjust="spacingAndGlyphs">Vec</text>
<text x="194.0" y="1047.8" font-size="31" textLength="60.5" lengthAdjust="spacingAndGlyphs">Slc-1</text>
<text x="260.4" y="1047.8" font-size="31" textLength="62.6" lengthAdjust="spacingAndGlyphs">Slc-2</text>
<text x="336.9" y="1048.8" font-size="31" textLength="31.9" lengthAdjust="spacingAndGlyphs">4h</text>
<rect x="130.1" y="1056.6" width="189.3" height="60.2" fill="#e8e8e8"/>
<g clip-path="url(#c9)">
<rect x="137.2" y="1085.5" width="40.6" height="7.1" rx="3.6" fill="#000" opacity="0.16" filter="url(#b30)"/>
<rect x="202.3" y="1084.2" width="41.3" height="9.5" rx="4.8" fill="#000" opacity="0.46" filter="url(#b26)"/>
<rect x="264.6" y="1082.9" width="49.3" height="9.0" rx="4.5" fill="#000" opacity="0.51" filter="url(#b26)"/>
</g>
<rect x="131.2" y="1057.7" width="187.1" height="58.0" fill="none" stroke="#000" stroke-width="2.2"/>
<rect x="130.1" y="1122.5" width="189.3" height="52.0" fill="#e0e0e0"/>
<g clip-path="url(#c10)">
<rect x="137.7" y="1126.2" width="174.6" height="1.5" rx="0.8" fill="#000" opacity="0.30" filter="url(#b30)"/>
<rect x="138.7" y="1139.2" width="40.6" height="12.1" rx="6.1" fill="#000" opacity="0.26" filter="url(#b30)"/>
<rect x="201.9" y="1140.0" width="47.7" height="10.5" rx="5.2" fill="#000" opacity="0.46" filter="url(#b24)"/>
<rect x="266.7" y="1140.0" width="46.7" height="10.5" rx="5.2" fill="#000" opacity="0.46" filter="url(#b24)"/>
</g>
<rect x="131.2" y="1123.6" width="187.1" height="49.8" fill="none" stroke="#000" stroke-width="2.2"/>
<rect x="130.1" y="1181.0" width="189.3" height="73.7" fill="#c6c6c6"/>
<g clip-path="url(#c11)">
<rect x="135.1" y="1173.6" width="50.8" height="48.8" rx="9.0" fill="#000" opacity="0.26" filter="url(#b40)"/>
<rect x="138.1" y="1223.6" width="44.8" height="24.8" rx="9.0" fill="#000" opacity="0.07" filter="url(#b40)"/>
<rect x="200.6" y="1171.6" width="52.8" height="72.8" rx="9.0" fill="#000" opacity="0.47" filter="url(#b40)"/>
<rect x="265.6" y="1171.6" width="52.8" height="72.8" rx="9.0" fill="#000" opacity="0.46" filter="url(#b40)"/>
<rect x="204.7" y="1196.5" width="44.6" height="11.1" rx="5.6" fill="#000" opacity="0.17" filter="url(#b30)"/>
<rect x="284.6" y="1187.6" width="22.8" height="4.8" rx="2.4" fill="#000" opacity="0.27" filter="url(#b40)"/>
<rect x="137.3" y="1210.0" width="47.1" height="9.3" rx="4.6" fill="#000" opacity="0.40" filter="url(#b16)"/>
<rect x="203.0" y="1206.6" width="48.4" height="16.0" rx="8.0" fill="#000" opacity="0.76" filter="url(#b28)"/>
<rect x="267.3" y="1206.8" width="48.5" height="15.7" rx="7.8" fill="#000" opacity="0.68" filter="url(#b28)"/>
</g>
<rect x="131.2" y="1182.1" width="187.1" height="71.5" fill="none" stroke="#000" stroke-width="2.2"/>
<rect x="130.1" y="1259.7" width="189.3" height="74.5" fill="#dcdcdc"/>
<g clip-path="url(#c12)">
<rect x="134.1" y="1277.7" width="48.1" height="10.7" rx="5.3" fill="#000" opacity="0.52" filter="url(#b19)"/>
<rect x="199.1" y="1278.6" width="46.1" height="8.8" rx="4.4" fill="#000" opacity="0.48" filter="url(#b16)"/>
<rect x="263.5" y="1277.5" width="50.7" height="11.0" rx="5.5" fill="#000" opacity="0.58" filter="url(#b19)"/>
<rect x="134.4" y="1305.7" width="49.9" height="13.5" rx="6.7" fill="#000" opacity="0.60" filter="url(#b24)"/>
<rect x="197.6" y="1305.7" width="49.9" height="13.5" rx="6.7" fill="#000" opacity="0.60" filter="url(#b24)"/>
<rect x="262.4" y="1305.7" width="52.2" height="13.5" rx="6.7" fill="#000" opacity="0.60" filter="url(#b24)"/>
</g>
<rect x="131.2" y="1260.8" width="187.1" height="72.3" fill="none" stroke="#000" stroke-width="2.2"/>
<rect x="130.1" y="1338.6" width="189.3" height="74.4" fill="#dedede"/>
<g clip-path="url(#c13)">
<rect x="133.3" y="1356.8" width="51.3" height="28.3" rx="9.0" fill="#000" opacity="0.72" filter="url(#b40)"/>
<rect x="197.3" y="1357.2" width="54.3" height="27.3" rx="9.0" fill="#000" opacity="0.70" filter="url(#b40)"/>
<rect x="263.2" y="1356.8" width="53.3" height="28.3" rx="9.0" fill="#000" opacity="0.72" filter="url(#b40)"/>
<rect x="138.6" y="1390.6" width="38.8" height="6.8" rx="3.4" fill="#000" opacity="0.12" filter="url(#b40)"/>
<rect x="223.6" y="1390.6" width="22.8" height="6.8" rx="3.4" fill="#000" opacity="0.12" filter="url(#b40)"/>
<rect x="272.6" y="1390.6" width="38.8" height="6.8" rx="3.4" fill="#000" opacity="0.12" filter="url(#b40)"/>
</g>
<rect x="131.2" y="1339.7" width="187.1" height="72.2" fill="none" stroke="#000" stroke-width="2.2"/>
<text x="54.0" y="1096.0" font-size="20.5" textLength="73.6" lengthAdjust="spacingAndGlyphs">11 kDa-</text>
<text x="54.0" y="1150.4" font-size="20.5" textLength="73.6" lengthAdjust="spacingAndGlyphs">17 kDa-</text>
<text x="54.0" y="1221.6" font-size="20.5" textLength="73.6" lengthAdjust="spacingAndGlyphs">11 kDa-</text>
<text x="54.0" y="1285.6" font-size="20.5" textLength="73.6" lengthAdjust="spacingAndGlyphs">17 kDa-</text>
<text x="54.0" y="1319.4" font-size="20.5" textLength="73.6" lengthAdjust="spacingAndGlyphs">11 kDa-</text>
<text x="54.0" y="1379.0" font-size="20.5" textLength="73.6" lengthAdjust="spacingAndGlyphs">55 kDa-</text>
<text x="324.5" y="1093.6" font-size="31" textLength="103.2" lengthAdjust="spacingAndGlyphs">H4K5ac</text>
<text x="324.5" y="1151.6" font-size="31" textLength="119.5" lengthAdjust="spacingAndGlyphs">H3K14ac</text>
<text x="324.5" y="1227.0" font-size="31" textLength="119.5" lengthAdjust="spacingAndGlyphs">H4K12ac</text>
<text x="324.5" y="1293.0" font-size="31" textLength="35.5" lengthAdjust="spacingAndGlyphs">H3</text>
<text x="324.5" y="1324.7" font-size="31" textLength="35.5" lengthAdjust="spacingAndGlyphs">H4</text>
<text x="325.0" y="1380.7" font-size="31" textLength="93.0" lengthAdjust="spacingAndGlyphs">Tubulin</text>
<rect x="585.3" y="1257.0" width="25.7" height="126.5" fill="#cfe4ec" stroke="#75757a" stroke-width="1.8"/>
<rect x="611.0" y="1137.0" width="27.6" height="246.5" fill="#8cc663" stroke="#75757a" stroke-width="1.8"/>
<rect x="638.6" y="1150.4" width="26.4" height="233.1" fill="#3aae5d" stroke="#75757a" stroke-width="1.8"/>
<rect x="676.0" y="1338.0" width="25.6" height="45.5" fill="#cfe4ec" stroke="#75757a" stroke-width="1.8"/>
<rect x="701.6" y="1233.0" width="27.0" height="150.5" fill="#8cc663" stroke="#75757a" stroke-width="1.8"/>
<rect x="728.6" y="1222.0" width="26.4" height="161.5" fill="#3aae5d" stroke="#75757a" stroke-width="1.8"/>
<path d="M595.2 1240.0H606.8M595.2 1274.0H606.8M601.0 1240.0V1274.0" stroke="#000" stroke-width="2.25" fill="none"/>
<path d="M621.2 1111.0H632.8M621.2 1166.4H632.8M627.0 1111.0V1166.4" stroke="#000" stroke-width="2.25" fill="none"/>
<path d="M647.0 1120.0H658.5M647.0 1181.0H658.5M652.8 1120.0V1181.0" stroke="#000" stroke-width="2.25" fill="none"/>
<path d="M683.8 1332.0H695.2M683.8 1346.5H695.2M689.5 1332.0V1346.5" stroke="#000" stroke-width="2.25" fill="none"/>
<path d="M711.9 1199.0H723.4M711.9 1267.8H723.4M717.6 1199.0V1267.8" stroke="#000" stroke-width="2.25" fill="none"/>
<path d="M736.8 1213.7H748.2M736.8 1233.0H748.2M742.5 1213.7V1233.0" stroke="#000" stroke-width="2.25" fill="none"/>
<text x="627.9" y="1116.8" font-size="42" text-anchor="middle" stroke="#000" stroke-width="1.0" stroke-linejoin="round">*</text>
<text x="654.3" y="1128.6" font-size="42" text-anchor="middle" stroke="#000" stroke-width="1.0" stroke-linejoin="round">*</text>
<text x="717.1" y="1208.6" font-size="42" text-anchor="middle" stroke="#000" stroke-width="1.0" stroke-linejoin="round">*</text>
<text x="742.8" y="1220.1" font-size="42" text-anchor="middle" stroke="#000" stroke-width="1.0" stroke-linejoin="round">*</text>
<text x="761.0" y="1374.6" font-size="31" textLength="31.7" lengthAdjust="spacingAndGlyphs">4h</text>
<rect x="577.8" y="1005.4" width="12.8" height="12.4" fill="#cfe4ec" stroke="#87878c" stroke-width="1.6"/>
<rect x="577.8" y="1032.2" width="12.8" height="12.6" fill="#8cc663" stroke="#87878c" stroke-width="1.6"/>
<rect x="577.8" y="1059.8" width="12.8" height="13.6" fill="#3aae5d" stroke="#87878c" stroke-width="1.6"/>
<text x="601.0" y="1018.7" font-size="32" fill="#a9a9a9" textLength="59.0" lengthAdjust="spacingAndGlyphs">Vec</text>
<text x="602.0" y="1047.0" font-size="32" textLength="215.7" lengthAdjust="spacingAndGlyphs">oeHBO1-Slc-1</text>
<text x="602.0" y="1074.6" font-size="32" textLength="218.3" lengthAdjust="spacingAndGlyphs">oeHBO1-Slc-2</text>
<text x="529.0" y="1105.4" font-size="31" textLength="39.5" lengthAdjust="spacingAndGlyphs">1.2</text>
<text x="529.0" y="1201.1" font-size="31" textLength="39.5" lengthAdjust="spacingAndGlyphs">0.8</text>
<text x="529.0" y="1249.0" font-size="31" textLength="39.5" lengthAdjust="spacingAndGlyphs">0.6</text>
<text x="529.0" y="1296.8" font-size="31" textLength="39.5" lengthAdjust="spacingAndGlyphs">0.4</text>
<text x="529.0" y="1344.7" font-size="31" textLength="39.5" lengthAdjust="spacingAndGlyphs">0.2</text>
<text x="545.9" y="1153.2" font-size="31">1</text>
<text x="551.1" y="1392.5" font-size="31">0</text>
<g transform="translate(515.3 1413.3) rotate(-90) scale(0.9605 1)"><text x="-0.00" y="0" font-size="30.5" xml:space="preserve">Intensity (vs. <tspan dx="5.2">Total histone)</tspan></text></g>
<text x="639.0" y="1406.0" font-size="31" text-anchor="end" textLength="123.0" lengthAdjust="spacingAndGlyphs" transform="rotate(-45 639.0 1406.0)">H3K14ac</text>
<text x="728.0" y="1406.0" font-size="31" text-anchor="end" textLength="123.0" lengthAdjust="spacingAndGlyphs" transform="rotate(-45 728.0 1406.0)">H4K12ac</text>
<text x="850.4" y="1006.3" font-size="54" font-weight="bold" fill="#231815" textLength="38.5" lengthAdjust="spacingAndGlyphs">F.</text>
<rect x="1017.0" y="1276.7" width="24.0" height="71.8" fill="#cfe4ec" stroke="#75757a" stroke-width="1.8"/>
<rect x="1041.0" y="1211.0" width="24.0" height="137.5" fill="#8cc663" stroke="#75757a" stroke-width="1.8"/>
<rect x="1065.0" y="1204.6" width="24.5" height="143.9" fill="#3aae5d" stroke="#75757a" stroke-width="1.8"/>
<rect x="1099.0" y="1276.7" width="25.0" height="71.8" fill="#cfe4ec" stroke="#75757a" stroke-width="1.8"/>
<rect x="1124.0" y="1238.0" width="24.0" height="110.5" fill="#8cc663" stroke="#75757a" stroke-width="1.8"/>
<rect x="1148.0" y="1235.8" width="24.4" height="112.7" fill="#3aae5d" stroke="#75757a" stroke-width="1.8"/>
<rect x="1181.7" y="1276.7" width="23.0" height="71.8" fill="#cfe4ec" stroke="#75757a" stroke-width="1.8"/>
<rect x="1204.7" y="1131.0" width="24.3" height="217.5" fill="#8cc663" stroke="#75757a" stroke-width="1.8"/>
<rect x="1229.0" y="1121.7" width="26.0" height="226.8" fill="#3aae5d" stroke="#75757a" stroke-width="1.8"/>
<rect x="1263.4" y="1276.7" width="24.2" height="71.8" fill="#cfe4ec" stroke="#75757a" stroke-width="1.8"/>
<rect x="1287.6" y="1171.9" width="24.1" height="176.6" fill="#8cc663" stroke="#75757a" stroke-width="1.8"/>
<rect x="1311.7" y="1173.7" width="24.3" height="174.8" fill="#3aae5d" stroke="#75757a" stroke-width="1.8"/>
<path d="M1022.2 1272.0H1033.8M1022.2 1282.0H1033.8M1028.0 1272.0V1282.0" stroke="#000" stroke-width="2.25" fill="none"/>
<path d="M1047.2 1204.0H1058.8M1047.2 1219.0H1058.8M1053.0 1204.0V1219.0" stroke="#000" stroke-width="2.25" fill="none"/>
<path d="M1072.2 1195.0H1083.8M1072.2 1217.0H1083.8M1078.0 1195.0V1217.0" stroke="#000" stroke-width="2.25" fill="none"/>
<path d="M1106.0 1272.0H1117.5M1106.0 1282.0H1117.5M1111.8 1272.0V1282.0" stroke="#000" stroke-width="2.25" fill="none"/>
<path d="M1130.2 1230.0H1141.8M1130.2 1250.7H1141.8M1136.0 1230.0V1250.7" stroke="#000" stroke-width="2.25" fill="none"/>
<path d="M1155.0 1227.6H1166.5M1155.0 1246.0H1166.5M1160.8 1227.6V1246.0" stroke="#000" stroke-width="2.25" fill="none"/>
<path d="M1188.5 1271.5H1200.0M1188.5 1283.4H1200.0M1194.3 1271.5V1283.4" stroke="#000" stroke-width="2.25" fill="none"/>
<path d="M1213.0 1113.5H1224.5M1213.0 1148.8H1224.5M1218.8 1113.5V1148.8" stroke="#000" stroke-width="2.25" fill="none"/>
<path d="M1238.0 1103.0H1249.5M1238.0 1145.0H1249.5M1243.7 1103.0V1145.0" stroke="#000" stroke-width="2.25" fill="none"/>
<path d="M1271.2 1274.0H1282.8M1271.2 1281.5H1282.8M1277.0 1274.0V1281.5" stroke="#000" stroke-width="2.25" fill="none"/>
<path d="M1295.7 1158.0H1307.2M1295.7 1187.5H1307.2M1301.4 1158.0V1187.5" stroke="#000" stroke-width="2.25" fill="none"/>
<path d="M1320.5 1156.0H1332.0M1320.5 1195.0H1332.0M1326.3 1156.0V1195.0" stroke="#000" stroke-width="2.25" fill="none"/>
<text x="1054.0" y="1211.3" font-size="42" text-anchor="middle" stroke="#000" stroke-width="1.0" stroke-linejoin="round">*</text>
<text x="1078.3" y="1200.2" font-size="42" text-anchor="middle" stroke="#000" stroke-width="1.0" stroke-linejoin="round">*</text>
<text x="1137.0" y="1236.2" font-size="42" text-anchor="middle" stroke="#000" stroke-width="1.0" stroke-linejoin="round">*</text>
<text x="1160.8" y="1233.6" font-size="42" text-anchor="middle" stroke="#000" stroke-width="1.0" stroke-linejoin="round">*</text>
<text x="1219.6" y="1122.1" font-size="42" text-anchor="middle" stroke="#000" stroke-width="1.0" stroke-linejoin="round">*</text>
<text x="1243.7" y="1109.6" font-size="42" text-anchor="middle" stroke="#000" stroke-width="1.0" stroke-linejoin="round">*</text>
<text x="1302.5" y="1166.6" font-size="42" text-anchor="middle" stroke="#000" stroke-width="1.0" stroke-linejoin="round">*</text>
<text x="1326.3" y="1163.6" font-size="42" text-anchor="middle" stroke="#000" stroke-width="1.0" stroke-linejoin="round">*</text>
<rect x="1025.2" y="1005.2" width="13.4" height="12.6" fill="#cfe4ec" stroke="#87878c" stroke-width="1.6"/>
<rect x="1025.2" y="1032.2" width="13.4" height="12.6" fill="#8cc663" stroke="#87878c" stroke-width="1.6"/>
<rect x="1025.2" y="1060.0" width="13.4" height="13.4" fill="#3aae5d" stroke="#87878c" stroke-width="1.6"/>
<text x="1049.7" y="1019.5" font-size="32" fill="#a9a9a9" textLength="58.3" lengthAdjust="spacingAndGlyphs">Vec</text>
<text x="1049.7" y="1047.4" font-size="32" textLength="216.3" lengthAdjust="spacingAndGlyphs">oeHBO1-Slc-1</text>
<text x="1049.7" y="1075.0" font-size="32" textLength="218.3" lengthAdjust="spacingAndGlyphs">oeHBO1-Slc-2</text>
<text x="976.4" y="1070.6" font-size="31">4</text>
<text x="976.4" y="1142.2" font-size="31">3</text>
<text x="976.4" y="1213.8" font-size="31">2</text>
<text x="976.4" y="1357.0" font-size="31">0</text>
<text x="976.3" y="1285.4" font-size="31">1</text>
<text x="957.3" y="1396.1" font-size="31" textLength="47.5" lengthAdjust="spacingAndGlyphs">24h</text>
<g transform="translate(954.3 1363.0) rotate(-90) scale(0.9417 1)"><text x="-0.00" y="0" font-size="31" xml:space="preserve">mRNA (Folds vs. <tspan dx="5.3">“Vec”)</tspan></text></g>
<text x="1073.5" y="1369.5" font-size="31" text-anchor="end" textLength="80.0" lengthAdjust="spacingAndGlyphs" transform="rotate(-45 1073.5 1369.5)">CCR2</text>
<text x="1153.5" y="1369.0" font-size="31" text-anchor="end" textLength="80.0" lengthAdjust="spacingAndGlyphs" transform="rotate(-45 1153.5 1369.0)">MYLK</text>
<text x="1236.0" y="1369.5" font-size="31" text-anchor="end" textLength="119.0" lengthAdjust="spacingAndGlyphs" transform="rotate(-45 1236.0 1369.5)">VEGFR2</text>
<text x="1316.5" y="1369.5" font-size="31" text-anchor="end" textLength="108.0" lengthAdjust="spacingAndGlyphs" transform="rotate(-45 1316.5 1369.5)">OCIAD2</text>
<path d="M589.5 71.6V343.3M583.0 343.3H762.0M583.0 288.9H589.5M583.0 234.6H589.5M583.0 180.3H589.5M583.0 125.9H589.5M583.0 71.6H589.5M583.0 343.3H589.5M589.5 343.3V349.8M632.5 343.3V349.8M675.5 343.3V349.8M718.5 343.3V349.8M762.0 343.3V349.8" stroke="#87878c" stroke-width="5.9" stroke-linecap="round" stroke-linejoin="round" fill="none"/>
<path d="M1015.0 57.2V341.0M1008.5 341.0H1343.0M1008.5 341.0H1015.0M1008.5 293.7H1015.0M1008.5 246.4H1015.0M1008.5 199.1H1015.0M1008.5 151.8H1015.0M1008.5 104.5H1015.0M1008.5 57.2H1015.0M1015.0 341.0V347.5M1056.0 341.0V347.5M1097.0 341.0V347.5M1138.0 341.0V347.5M1179.0 341.0V347.5M1220.0 341.0V347.5M1261.0 341.0V347.5M1302.0 341.0V347.5M1343.0 341.0V347.5" stroke="#87878c" stroke-width="5.9" stroke-linecap="round" stroke-linejoin="round" fill="none"/>
<path d="M587.0 564.3V850.5M580.5 850.5H765.0M580.5 850.5H587.0M580.5 802.8H587.0M580.5 755.1H587.0M580.5 707.4H587.0M580.5 659.7H587.0M580.5 612.0H587.0M580.5 564.3H587.0M587.0 850.5V857.0M676.5 850.5V857.0M765.0 850.5V857.0" stroke="#87878c" stroke-width="5.9" stroke-linecap="round" stroke-linejoin="round" fill="none"/>
<path d="M987.0 571.8V856.5M980.5 856.5H1343.0M980.5 856.5H987.0M980.5 809.0H987.0M980.5 761.6H987.0M980.5 714.1H987.0M980.5 666.7H987.0M980.5 619.2H987.0M980.5 571.8H987.0M987.0 856.5V863.0M1076.2 856.5V863.0M1165.4 856.5V863.0M1254.6 856.5V863.0M1343.0 856.5V863.0" stroke="#87878c" stroke-width="5.9" stroke-linecap="round" stroke-linejoin="round" fill="none"/>
<path d="M581.0 1096.4V1383.5M574.5 1383.5H759.8M574.5 1383.5H581.0M574.5 1335.7H581.0M574.5 1287.8H581.0M574.5 1240.0H581.0M574.5 1192.1H581.0M574.5 1144.2H581.0M574.5 1096.4H581.0M581.0 1383.5V1390.0M670.6 1383.5V1390.0M759.8 1383.5V1390.0" stroke="#87878c" stroke-width="5.9" stroke-linecap="round" stroke-linejoin="round" fill="none"/>
<path d="M1009.5 1062.1V1348.5M1003.0 1348.5H1343.0M1003.0 1348.5H1009.5M1003.0 1312.7H1009.5M1003.0 1276.9H1009.5M1003.0 1241.1H1009.5M1003.0 1205.3H1009.5M1003.0 1169.5H1009.5M1003.0 1133.7H1009.5M1003.0 1097.9H1009.5M1003.0 1062.1H1009.5M1009.5 1348.5V1355.0M1092.9 1348.5V1355.0M1176.2 1348.5V1355.0M1259.6 1348.5V1355.0M1343.0 1348.5V1355.0" stroke="#87878c" stroke-width="5.9" stroke-linecap="round" stroke-linejoin="round" fill="none"/></svg></body></html>
